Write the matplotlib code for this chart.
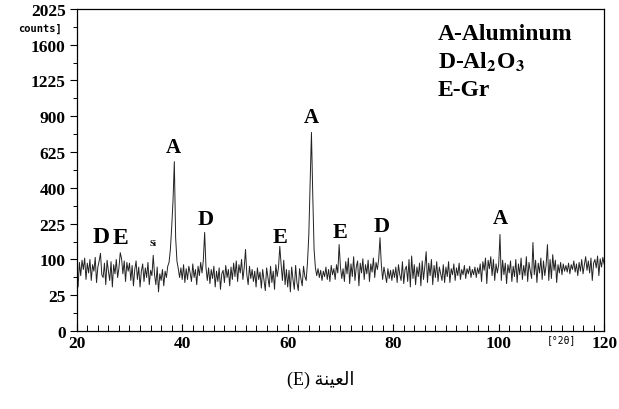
"""XRD pattern of sample E (Al matrix with Al2O3 and graphite)."""

import matplotlib.pyplot as plt
import numpy as np

plt.rcParams["mathtext.fontset"] = "stix"

# scan: 20..120 deg 2theta, step 0.25
theta_start, theta_step = 20.0, 0.25
counts = [
    70, 38, 92, 60, 98, 74, 104, 52, 90, 66, 100, 50, 86, 70, 106, 46, 80, 96, 118, 62,
    56, 90, 42, 98, 70, 50, 94, 38, 86, 64, 100, 56, 78, 120, 102, 64, 96, 48, 92, 70,
    90, 50, 84, 40, 74, 96, 52, 80, 38, 70, 88, 48, 78, 56, 92, 42, 72, 60, 112, 62,
    42, 80, 30, 64, 50, 74, 40, 70, 56, 82, 92, 130, 210, 330, 560, 170, 95, 76, 56, 78,
    52, 86, 46, 76, 52, 82, 66, 48, 88, 56, 74, 42, 82, 60, 92, 66, 98, 190, 80, 50,
    78, 44, 74, 54, 82, 38, 70, 48, 78, 34, 64, 72, 46, 84, 56, 74, 40, 80, 52, 90,
    58, 96, 48, 86, 66, 100, 52, 78, 130, 62, 42, 82, 54, 74, 48, 70, 38, 78, 52, 68,
    36, 74, 50, 32, 78, 56, 38, 82, 46, 70, 34, 86, 58, 78, 140, 86, 50, 98, 42, 74,
    38, 72, 30, 80, 52, 34, 84, 46, 32, 76, 54, 40, 82, 58, 50, 92, 180, 420, 770, 360,
    130, 78, 60, 76, 56, 72, 50, 70, 58, 80, 52, 74, 48, 84, 62, 76, 52, 86, 66, 146,
    80, 54, 76, 48, 94, 64, 104, 44, 88, 58, 108, 50, 80, 96, 40, 90, 66, 102, 52, 86,
    64, 98, 48, 88, 68, 104, 56, 92, 74, 100, 170, 86, 52, 80, 62, 46, 76, 54, 72, 50,
    74, 56, 80, 46, 86, 62, 50, 94, 44, 74, 82, 48, 100, 38, 110, 54, 86, 42, 80, 58,
    90, 40, 96, 52, 82, 123, 46, 90, 60, 100, 42, 84, 56, 94, 48, 80, 64, 50, 86, 46,
    80, 58, 94, 46, 76, 62, 88, 50, 78, 60, 90, 52, 74, 62, 84, 54, 76, 64, 82, 56,
    74, 62, 80, 56, 78, 64, 88, 48, 94, 72, 104, 44, 98, 76, 108, 60, 100, 50, 88, 66,
    86, 182, 50, 98, 62, 90, 44, 86, 66, 96, 48, 82, 58, 100, 46, 88, 62, 104, 52, 84,
    60, 108, 48, 92, 70, 54, 153, 62, 98, 46, 90, 66, 104, 52, 96, 60, 86, 146, 50, 100,
    54, 114, 72, 98, 46, 86, 66, 92, 62, 88, 70, 84, 68, 90, 64, 86, 74, 96, 68, 88,
    60, 92, 70, 100, 64, 86, 108, 72, 96, 66, 104, 50, 90, 100, 78, 110, 60, 102, 80, 106,
    88,
]
two_theta = theta_start + theta_step * np.arange(len(counts))

# peak markers
peak_names = ["D", "E", "Si", "A", "D", "E", "A", "E", "D", "A"]
peak_theta = [24.6, 28.3, 34.4, 38.4, 44.5, 58.5, 64.5, 69.9, 77.8, 100.3]
peak_label_y = [174, 170, 150, 660, 246, 174, 892, 193, 217, 251]
peak_size = [17, 17, 6, 15, 16, 16, 15, 16, 16, 15]

y_ticks = [0, 25, 100, 225, 400, 625, 900, 1225, 1600, 2025]
x_ticks = [20, 40, 60, 80, 100, 120]
legend_lines = ["A-Aluminum", r"D-Al$_\mathbf{2}$O$_\mathbf{3}$", "E-Gr"]

serif = "Liberation Serif"

fig = plt.figure(figsize=(6.19, 4.10), dpi=100)
ax = fig.add_axes([0.124, 0.19, 0.852, 0.786])

ax.plot(two_theta, counts, color="#222222", linewidth=0.7)

ax.set_yscale("function", functions=(lambda y: np.sqrt(np.clip(y, 0, None)), lambda y: np.square(y)))
ax.set_xlim(20, 120)
ax.set_ylim(0, 2025)

ax.set_yticks(y_ticks)
ax.set_yticklabels([str(v) for v in y_ticks], fontfamily=serif, fontweight="bold", fontsize=12.5)
ax.set_yticks([(v + 2.5) ** 2 for v in range(0, 45, 5)], minor=True)
ax.set_xticks(x_ticks)
ax.set_xticklabels([str(v) for v in x_ticks], fontfamily=serif, fontweight="bold", fontsize=12.5)
ax.set_xticks(np.arange(22, 120, 2), minor=True)
ax.tick_params(axis="y", which="major", direction="out", length=5, width=0.8, pad=3)
ax.tick_params(axis="y", which="minor", direction="out", length=3, width=0.7)
ax.tick_params(axis="x", which="major", direction="in", length=5, width=0.8, pad=3)
ax.tick_params(axis="x", which="minor", direction="in", length=4, width=0.7)
for s in ax.spines.values():
    s.set_linewidth(0.9)

for name, t, yv, fs in zip(peak_names, peak_theta, peak_label_y, peak_size):
    ax.text(t, yv, name, ha="center", va="center", fontsize=fs,
            fontfamily=serif, fontweight="bold")

for i, line in enumerate(legend_lines):
    ax.text(0.685, 0.925 - i * 0.088, line, transform=ax.transAxes, ha="left", va="center",
            fontsize=17, fontfamily=serif, fontweight="bold")

fig.text(62 / 619, 1 - 29 / 410, "counts]", ha="right", va="center",
         fontfamily="DejaVu Sans Mono", fontweight="bold", fontsize=7.5)
fig.text(561 / 619, 1 - 340 / 410, "[°2θ]", ha="center", va="center",
         fontfamily="DejaVu Sans Mono", fontsize=7)

# Arabic caption, pre-shaped (presentation forms, visual order)
arabic = "\uFE94\uFEE8\uFEF4\uFECC\uFEDF\uFE8D"
fig.text(321 / 619, 1 - 380 / 410, "(E) " + arabic, ha="center", va="center",
         fontsize=13, family=[serif, "DejaVu Sans"])

fig.savefig("out.png", dpi=100)
